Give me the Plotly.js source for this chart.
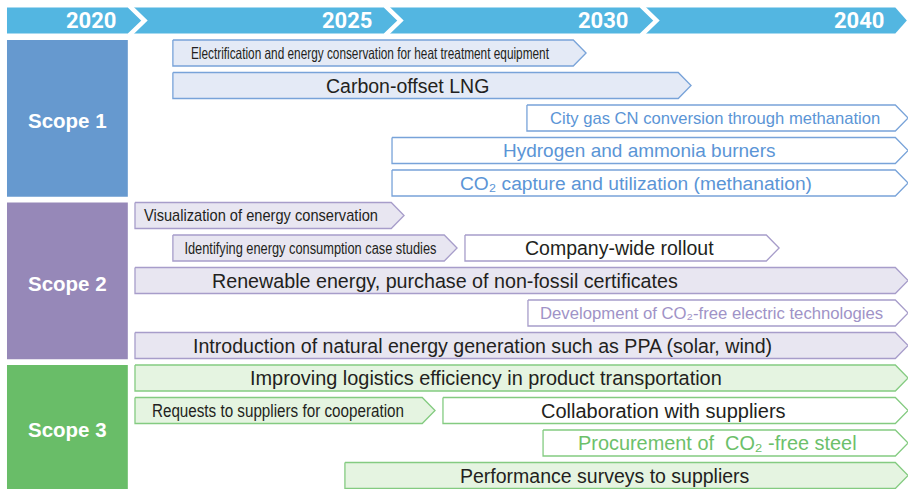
<!DOCTYPE html>
<html>
<head>
<meta charset="utf-8">
<script src="https://cdn.plot.ly/plotly-3.0.1.min.js"></script>
<style>html,body{margin:0;padding:0;background:#fff;}#chart{width:908px;height:489px;}</style>
</head>
<body>
<div id="chart"></div>
<script>
// ---------- DATA ----------
// Timeline periods (header); boundary index 0..3
const years = ["2020", "2025", "2030", "2040"];
const scopes = ["Scope 1", "Scope 2", "Scope 3"];
const scopeFirstRow = [0, 5, 10];
const scopeLastRow = [4, 9, 13];

// Roadmap initiatives (timeline units: 0 = 2020, 1 = 2025, 2 = 2030, 3 = 2040)
const labels = [
  "Electrification and energy conservation for heat treatment equipment",
  "Carbon-offset LNG",
  "City gas CN conversion through methanation",
  "Hydrogen and ammonia burners",
  "CO\u2082 capture and utilization (methanation)",
  "Visualization of energy conservation",
  "Identifying energy consumption case studies",
  "Company-wide rollout",
  "Renewable energy, purchase of non-fossil certificates",
  "Development of CO\u2082-free electric technologies",
  "Introduction of natural energy generation such as PPA (solar, wind)",
  "Improving logistics efficiency in product transportation",
  "Requests to suppliers for cooperation",
  "Collaboration with suppliers",
  "Procurement of \u00a0CO\u2082 -free steel",
  "Performance surveys to suppliers"
];
const barScope = [0, 0, 0, 0, 0, 1, 1, 1, 1, 1, 1, 2, 2, 2, 2, 2];
const barRow   = [0, 1, 2, 3, 4, 5, 6, 6, 7, 8, 9, 10, 11, 11, 12, 13];
const barStart = [0.148, 0.148, 1.531, 1.004, 1.004, 0, 0.148, 1.289, 0, 1.535, 0, 0, 0, 1.203, 1.594, 0.82];
const barEnd   = [1.762, 2.172, 3.02, 3.02, 3.02, 1.051, 1.258, 2.516, 3.02, 3.02, 3.02, 3.02, 1.172, 3.02, 3.02, 3.02];

// ---------- STYLE ----------
const barKind  = ["fill", "fill", "outline", "outline", "outline", "fill", "fill", "plain", "fill", "outline", "fill", "fill", "fill", "plain", "outline", "fill"];
const labelX   = [0.918, 1.066, 2.266, 1.969, 1.958, 0.494, 0.684, 1.892, 1.211, 2.25, 1.359, 1.371, 0.56, 2.066, 2.277, 1.836];
const labelSize = [16.5, 19.5, 16.6, 19, 19.2, 17, 16, 19.5, 19.7, 16.7, 19.6, 19.9, 17.5, 20, 19.9, 19.5];
// condensed labels: rendered width in px (null = natural width)
const condensedWidth = [358, null, null, null, null, 234, 252, null, null, null, null, null, 252, null, null, null];

const scopeColor = ["#6699cf", "#9688b8", "#69bd68"];
const barFill    = ["#e4eaf6", "#e8e6f1", "#e5f4e1"];
const barLine    = ["#78a3d9", "#a79dca", "#84cb81"];
const accentText = ["#5b95d6", "#a093c7", "#6cc06a"];
const headerColor = "#53b6e1";
const darkText = "#231f20";

const SANS = "Liberation Sans, Arial, Helvetica, sans-serif";

const H = 0.4;       // half bar height (rows)
const TIP = 0.05;    // arrow tip length (timeline units)
const X0 = -0.5273, X1 = 3.0195;

const traces = [];
const annotations = [];

// header band
const hTop = -1 - H, hBot = -1 + H;
traces.push({
  x: [-0.5, 3.015 - TIP * 0.9, 3.015, 3.015 - TIP * 0.9, -0.5, -0.5],
  y: [hTop, hTop, -1, hBot, hBot, hTop],
  mode: "lines", fill: "toself", fillcolor: headerColor,
  line: {width: 0, color: headerColor}, hoverinfo: "skip"
});
// header chevron separators
for (let b = 0; b < years.length - 1; b++) {
  traces.push({
    x: [b - 0.022, b + 0.037, b - 0.022],
    y: [hTop - 0.05, -1, hBot + 0.05],
    mode: "lines", line: {width: 4.5, color: "#ffffff"}, hoverinfo: "skip"
  });
}
years.forEach((yr, b) => {
  annotations.push({
    x: b - 0.062, y: -1, xref: "x", yref: "y", xanchor: "right", yanchor: "middle",
    text: "<b>" + yr + "</b>", showarrow: false,
    font: {family: "Roboto, Liberation Sans, sans-serif", size: 22, color: "#ffffff"}
  });
});

// scope boxes
scopes.forEach((s, i) => {
  const t = scopeFirstRow[i] - H, bt = scopeLastRow[i] + H + 0.02;
  traces.push({
    x: [-0.5, -0.028, -0.028, -0.5, -0.5],
    y: [t, t, bt, bt, t],
    mode: "lines", fill: "toself", fillcolor: scopeColor[i],
    line: {width: 0, color: scopeColor[i]}, hoverinfo: "skip"
  });
  annotations.push({
    x: -0.264, y: (t + bt) / 2 + 0.08, xref: "x", yref: "y", xanchor: "center", yanchor: "middle",
    text: "<b>" + s + "</b>", showarrow: false,
    font: {family: SANS, size: 20.5, color: "#ffffff"}
  });
});

const barAnnStart = annotations.length;
// roadmap bars
labels.forEach((lab, i) => {
  const sc = barScope[i], r = barRow[i];
  const s = barStart[i], e = barEnd[i];
  const kind = barKind[i];
  traces.push({
    x: [s, e - TIP, e, e - TIP, s, s],
    y: [r - H, r - H, r, r + H, r + H, r - H],
    mode: "lines", fill: "toself",
    fillcolor: kind === "fill" ? barFill[sc] : "#ffffff",
    line: {width: 1.3, color: barLine[sc]}, hoverinfo: "skip"
  });
  annotations.push({
    x: labelX[i], y: r, xref: "x", yref: "y", xanchor: "center", yanchor: "middle",
    text: lab, showarrow: false,
    font: {family: SANS, size: labelSize[i],
           color: kind === "outline" ? accentText[sc] : darkText}
  });
});

const layout = {
  width: 908, height: 489,
  margin: {l: 0, r: 0, t: 0, b: 0, pad: 0},
  paper_bgcolor: "#ffffff", plot_bgcolor: "#ffffff",
  showlegend: false,
  xaxis: {range: [X0, X1], visible: false, fixedrange: true},
  yaxis: {range: [13.415, -1.631], visible: false, fixedrange: true},
  annotations: annotations
};

Plotly.newPlot("chart", traces, layout, {staticPlot: true, displayModeBar: false}).then(gd => {
  // condensed type for the narrow labels (glyphs compressed horizontally)
  gd.querySelectorAll("g.annotation").forEach(g => {
    const idx = +g.getAttribute("data-index") - barAnnStart;
    if (idx >= 0 && idx < labels.length && condensedWidth[idx]) {
      const t = g.querySelector("text.annotation-text");
      if (t) {
        t.setAttribute("textLength", condensedWidth[idx]);
        t.setAttribute("lengthAdjust", "spacingAndGlyphs");
      }
    }
  });
});
</script>
</body>
</html>
